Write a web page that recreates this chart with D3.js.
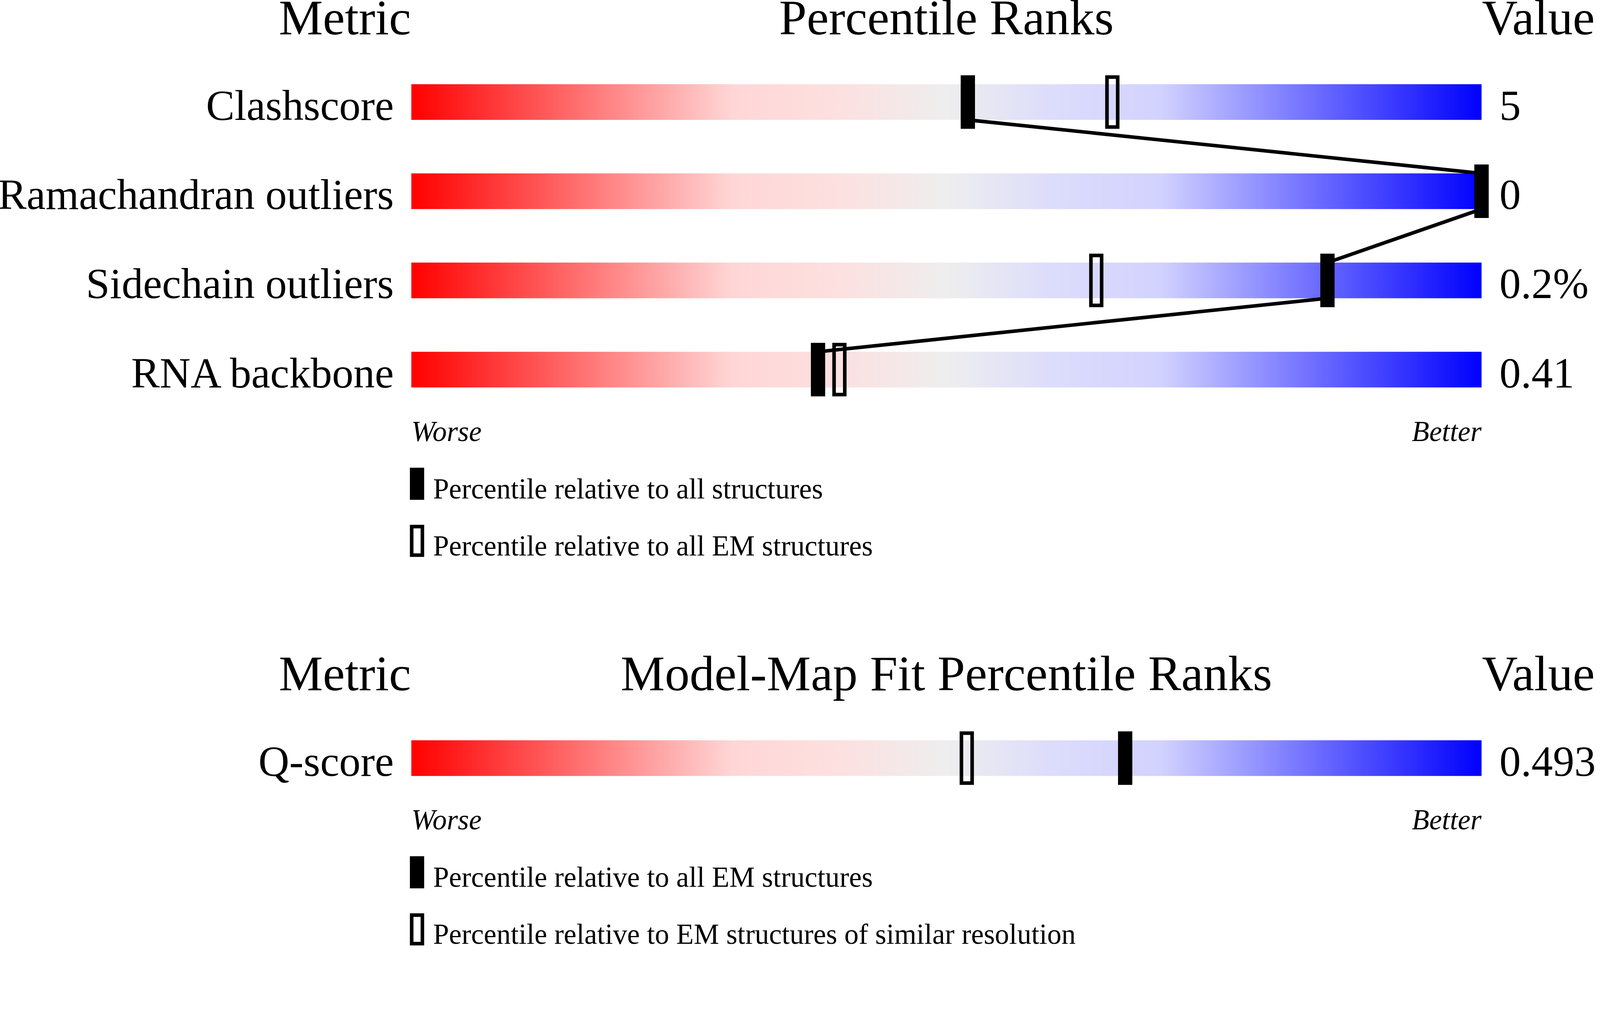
<!DOCTYPE html>
<html>
<head>
<meta charset="utf-8">
<script src="https://cdn.jsdelivr.net/npm/d3@7"></script>
<style>
  html, body { margin: 0; padding: 0; background: #fff; overflow: hidden; }
  #chart { display: block; width: 100vw; height: calc(100vw * 2652 / 4485); }
  svg text { font-family: "Liberation Serif", "Times New Roman", serif; fill: #000; }
</style>
</head>
<body>
<svg id="chart" viewBox="0 0 4485 2652" preserveAspectRatio="xMidYMin meet"></svg>
<script>
// geometry quality panel
const metrics = ["Clashscore", "Ramachandran outliers", "Sidechain outliers", "RNA backbone"]
const metricValues = ["5", "0", "0.2%", "0.41"]
const pctAll = [52, 100, 85.6, 38]
const pctEM = [65.5, 100, 64, 40]
const legendTop = ["Percentile relative to all structures", "Percentile relative to all EM structures"]

// model-map fit panel
const fitMetrics = ["Q-score"]
const fitValues = ["0.493"]
const fitPctEM = [66.7]
const fitPctSimilar = [51.9]
const legendBottom = ["Percentile relative to all EM structures", "Percentile relative to EM structures of similar resolution"]

// gradient stops (offset, colour)
const gradOffsets = [0, 0.3, 0.4, 0.5, 0.6, 0.7, 1]
const gradColors = ["#ff0000", "#ffd6d6", "#fde0e0", "#eeeeee", "#dcdcfc", "#d2d2ff", "#0000ff"]

var svg = d3.select("#chart")
const xScale = d3.scaleLinear().domain([0, 100]).range([1153, 4153])

const defs = svg.append("defs")
const grad = defs.append("linearGradient").attr("id", "slider")
  .attr("x1", "0%").attr("x2", "100%").attr("y1", "0%").attr("y2", "0%")
grad.selectAll("stop")
  .data(gradOffsets)
  .join("stop")
  .attr("offset", function (d) { return d })
  .attr("stop-color", function (d, i) { return gradColors[i] })

function drawPanel(top, title, names, values, solid, hollow, legend, withLine) {
  const n = names.length
  // 250px per row, 100px bar, first bar 140 below the header baseline
  const yScale = d3.scaleBand()
    .domain(names)
    .range([top + 140 - 75, top + 140 - 75 + n * 250])
    .paddingInner(0.6)
    .paddingOuter(0.3)
  const g = svg.append("g")

  // headers
  g.append("text").attr("x", 1152).attr("y", top).attr("text-anchor", "end")
    .attr("font-size", 139).text("Metric")
  g.append("text").attr("x", xScale(50)).attr("y", top).attr("text-anchor", "middle")
    .attr("font-size", 139).text(title)
  g.append("text").attr("x", 4154).attr("y", top)
    .attr("font-size", 139).text("Value")

  // bars
  g.selectAll("rect.bar")
    .data(names)
    .join("rect")
    .attr("class", "bar")
    .attr("x", xScale(0))
    .attr("y", function (d) { return yScale(d) })
    .attr("width", xScale(100) - xScale(0))
    .attr("height", yScale.bandwidth())
    .attr("fill", "url(#slider)")

  g.selectAll("text.label")
    .data(names)
    .join("text")
    .attr("class", "label")
    .attr("x", 1104)
    .attr("y", function (d) { return yScale(d) + yScale.bandwidth() })
    .attr("text-anchor", "end")
    .attr("font-size", 120)
    .text(function (d) { return d })

  g.selectAll("text.value")
    .data(values)
    .join("text")
    .attr("class", "value")
    .attr("x", 4203)
    .attr("y", function (d, i) { return yScale(names[i]) + yScale.bandwidth() })
    .attr("font-size", 120)
    .text(function (d) { return d })

  // hollow markers
  g.selectAll("rect.hollow")
    .data(hollow)
    .join("rect")
    .attr("class", "hollow")
    .attr("x", function (d) { return xScale(d) - 15 })
    .attr("y", function (d, i) { return yScale(names[i]) - 20 })
    .attr("width", 30)
    .attr("height", yScale.bandwidth() + 40)
    .attr("fill", "none")
    .attr("stroke", "#000")
    .attr("stroke-width", 10)

  // solid markers
  g.selectAll("rect.solid")
    .data(solid)
    .join("rect")
    .attr("class", "solid")
    .attr("x", function (d) { return xScale(d) - 20 })
    .attr("y", function (d, i) { return yScale(names[i]) - 25 })
    .attr("width", 40)
    .attr("height", yScale.bandwidth() + 50)
    .attr("fill", "#000")

  // connecting line: bottom of one bar to top of the next
  if (withLine && n > 1) {
    const pts = []
    solid.forEach(function (p, i) {
      if (i > 0) pts.push([xScale(p), yScale(names[i])])
      if (i < n - 1) pts.push([xScale(p), yScale(names[i]) + yScale.bandwidth()])
    })
    g.append("path")
      .attr("d", d3.line()(pts))
      .attr("fill", "none")
      .attr("stroke", "#000")
      .attr("stroke-width", 10)
  }

  const last = yScale(names[n - 1]) + yScale.bandwidth()
  g.append("text").attr("x", xScale(0)).attr("y", last + 150)
    .attr("font-size", 80).attr("font-style", "italic").text("Worse")
  g.append("text").attr("x", xScale(100)).attr("y", last + 150).attr("text-anchor", "end")
    .attr("font-size", 80).attr("font-style", "italic").text("Better")

  // legend
  const ly = last + 225
  g.append("rect").attr("x", 1149).attr("y", ly).attr("width", 40).attr("height", 90).attr("fill", "#000")
  g.append("rect").attr("x", 1154).attr("y", ly + 165).attr("width", 30).attr("height", 80)
    .attr("fill", "none").attr("stroke", "#000").attr("stroke-width", 10)
  g.selectAll("text.legend")
    .data(legend)
    .join("text")
    .attr("class", "legend")
    .attr("x", 1214)
    .attr("y", function (d, i) { return ly + 86 + i * 160 })
    .attr("font-size", 80)
    .text(function (d) { return d })
}

drawPanel(96, "Percentile Ranks", metrics, metricValues, pctAll, pctEM, legendTop, true)
drawPanel(1935, "Model-Map Fit Percentile Ranks", fitMetrics, fitValues, fitPctEM, fitPctSimilar, legendBottom, false)
</script>
</body>
</html>
